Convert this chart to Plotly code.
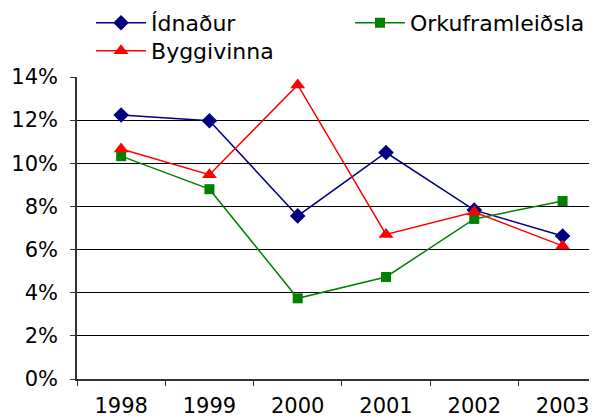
import plotly.graph_objects as go

years = ["1998", "1999", "2000", "2001", "2002", "2003"]
idnadur = [12.24, 11.97, 7.56, 10.5, 7.83, 6.63]
orka = [10.33, 8.8, 3.74, 4.73, 7.42, 8.25]
bygg = [10.66, 9.47, 13.63, 6.7, 7.74, 6.17]
y_ticks = [0, 2, 4, 6, 8, 10, 12, 14]
y_labels = ["0%", "2%", "4%", "6%", "8%", "10%", "12%", "14%"]

FONT = "DejaVu Sans"
fig = go.Figure()
fig.add_trace(go.Scatter(x=years, y=idnadur, name="Ídnaður", mode="lines+markers",
                         line=dict(color="#000080", width=1.5),
                         marker=dict(symbol="diamond", size=12, color="#000080"),
                         legend="legend"))
fig.add_trace(go.Scatter(x=years, y=orka, name="Orkuframleiðsla", mode="lines+markers",
                         line=dict(color="#008000", width=1.5),
                         marker=dict(symbol="square", size=10, color="#008000"),
                         legend="legend2"))
fig.add_trace(go.Scatter(x=years, y=bygg, name="Byggivinna", mode="lines+markers",
                         line=dict(color="#FF0000", width=1.5),
                         marker=dict(symbol="triangle-up", size=13, color="#FF0000"),
                         legend="legend3"))

leg = dict(xanchor="left", yanchor="middle", orientation="v",
           bgcolor="rgba(0,0,0,0)", itemwidth=50, font=dict(family=FONT, size=22))
fig.update_layout(
    width=589, height=411,
    margin=dict(l=69, r=0, t=69, b=40, autoexpand=False),
    paper_bgcolor="white", plot_bgcolor="white",
    font=dict(family=FONT, size=21, color="black"),
    legend=dict(x=0.027, y=1.179, **leg),
    legend2=dict(x=0.525, y=1.179, **leg),
    legend3=dict(x=0.027, y=1.086, **leg),
    showlegend=True,
)
fig.update_xaxes(type="category", range=[-0.5, 5.39], showgrid=False, automargin=False,
                 showline=True, linecolor="#333", linewidth=1.5,
                 ticks="outside", tickson="boundaries", ticklen=5, tickcolor="#333",
                 ticklabelstandoff=7,
                 tickfont=dict(family=FONT, size=21))
fig.update_yaxes(range=[0, 14], tickvals=y_ticks, ticktext=y_labels, automargin=False,
                 showgrid=True, gridcolor="#000", gridwidth=1,
                 showline=True, linecolor="#333", linewidth=1.5,
                 ticks="outside", ticklen=5, tickcolor="#333",
                 ticklabelstandoff=8,
                 zeroline=False, tickfont=dict(family=FONT, size=21))
fig.write_html("out.html")
